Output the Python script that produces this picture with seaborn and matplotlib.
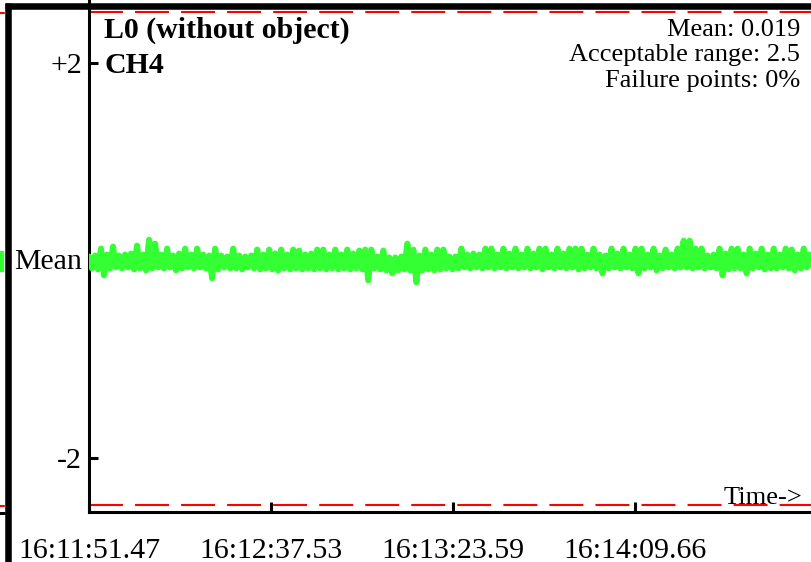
import numpy as np
import matplotlib
matplotlib.use("Agg")
import matplotlib.pyplot as plt
import seaborn as sns
from matplotlib.lines import Line2D
from matplotlib.patches import Rectangle

# channel signal (deviation from mean), one sample every 0.76 s
signal = [
    0.04, -0.08, 0.05, -0.09, 0.12, -0.15, 0.06, -0.08, 0.14, -0.07, 0.05, -0.08,
    0.06, -0.07, 0.07, -0.09, 0.15, -0.08, 0.06, -0.10, 0.21, -0.08, 0.17, -0.07,
    0.06, -0.08, 0.12, -0.07, 0.05, -0.10, 0.07, -0.08, 0.12, -0.07, 0.06, -0.08,
    0.12, -0.07, 0.06, -0.08, 0.05, -0.18, 0.12, -0.09, 0.05, -0.07, 0.04, -0.08,
    0.12, -0.08, 0.05, -0.09, 0.04, -0.07, 0.05, -0.08, 0.11, -0.09, 0.06, -0.08,
    0.11, -0.09, 0.07, -0.10, 0.11, -0.08, 0.06, -0.09, 0.11, -0.08, 0.10, -0.09,
    0.06, -0.08, 0.07, -0.09, 0.11, -0.08, 0.11, -0.09, 0.06, -0.08, 0.11, -0.09,
    0.06, -0.08, 0.11, -0.09, 0.07, -0.08, 0.10, -0.09, 0.11, -0.20, 0.11, -0.08,
    0.04, -0.09, 0.10, -0.10, 0.03, -0.13, 0.03, -0.10, 0.04, -0.09, 0.17, -0.10,
    0.11, -0.22, 0.05, -0.10, 0.11, -0.09, 0.06, -0.10, 0.11, -0.09, 0.11, -0.08,
    0.04, -0.09, 0.04, -0.08, 0.12, -0.07, 0.06, -0.08, 0.07, -0.07, 0.06, -0.08,
    0.12, -0.07, 0.12, -0.08, 0.06, -0.07, 0.12, -0.08, 0.07, -0.07, 0.12, -0.08,
    0.06, -0.07, 0.12, -0.08, 0.07, -0.07, 0.12, -0.09, 0.12, -0.07, 0.06, -0.08,
    0.12, -0.07, 0.07, -0.08, 0.12, -0.07, 0.12, -0.09, 0.12, -0.08, 0.06, -0.07,
    0.12, -0.08, 0.06, -0.13, 0.05, -0.08, 0.12, -0.07, 0.07, -0.08, 0.12, -0.07,
    0.06, -0.08, 0.12, -0.13, 0.12, -0.08, 0.06, -0.07, 0.12, -0.10, 0.05, -0.08,
    0.11, -0.07, 0.06, -0.08, 0.12, -0.07, 0.20, -0.07, 0.20, -0.08, 0.12, -0.07,
    0.12, -0.08, 0.05, -0.07, 0.06, -0.08, 0.12, -0.15, 0.07, -0.09, 0.12, -0.08,
    0.12, -0.08, 0.06, -0.13, 0.12, -0.08, 0.07, -0.07, 0.12, -0.09, 0.06, -0.08,
    0.12, -0.08, 0.06, -0.07, 0.12, -0.08, 0.11, -0.10, 0.06, -0.08, 0.12, -0.07,
    0.06, -0.08, 0.07,
]
sample_dt = 0.76
mean_value = 0.019
acceptable_range = 2.5
tick_seconds = [0, 46.06, 92.12, 138.19]
tick_labels = ["16:11:51.47", "16:12:37.53", "16:13:23.59", "16:14:09.66"]
ytick_values = [2, mean_value, -2]
ytick_labels = ["+2", "Mean", "-2"]

times = np.arange(len(signal)) * sample_dt

sns.set_style("white")
plt.rcParams["font.family"] = ["Liberation Serif", "DejaVu Serif"]
plt.rcParams["text.color"] = "black"

W, H = 812, 562
fig = plt.figure(figsize=(W / 100, H / 100), dpi=100)
ax = fig.add_axes([89 / W, 50 / H, 1 - 89 / W, 1 - 50 / H])

green = "#33ff33"
sns.lineplot(x=times, y=signal, ax=ax, color=green, linewidth=4.4, zorder=3)

for lvl in (mean_value + acceptable_range, mean_value - acceptable_range):
    ax.axhline(lvl, color="red", linewidth=1.5, dashes=(16.3, 5.8), zorder=2)

ax.set_xlim(0, 182.97)
ax.set_ylim(-2.547, 2.638)
ax.set_xticks(tick_seconds)
ax.set_xticklabels(tick_labels)
ax.set_yticks(ytick_values)
ax.set_yticklabels(ytick_labels)
ax.tick_params(axis="y", left=True, direction="in", length=6.5, width=2.2,
               pad=5, labelsize=21.5, colors="black")
ax.tick_params(axis="x", bottom=True, direction="in", length=7.5, width=2.2,
               pad=19, labelsize=21.5, colors="black")

for side in ("top", "right"):
    ax.spines[side].set_visible(False)
for side in ("left", "bottom"):
    ax.spines[side].set_color("black")
    ax.spines[side].set_linewidth(2.2)

# panel header and statistics
fig.text(104 / W, 1 - 38 / H, "L0 (without object)", fontsize=21.5,
         fontweight="bold", ha="left", va="baseline")
fig.text(104 / W, 1 - 73 / H, "CH4", fontsize=21.5,
         fontweight="bold", ha="left", va="baseline")
fig.text(800 / W, 1 - 36 / H, f"Mean: {mean_value}", fontsize=19,
         ha="right", va="baseline")
fig.text(800 / W, 1 - 61.5 / H, f"Acceptable range: {acceptable_range}",
         fontsize=19, ha="right", va="baseline")
fig.text(800 / W, 1 - 87 / H, "Failure points: 0%", fontsize=19,
         ha="right", va="baseline")
fig.text(802 / W, 1 - 504 / H, "Time->", fontsize=19, ha="right", va="baseline")

# panel frame (grid borders)
fig.add_artist(Line2D([8.3 / W, 8.3 / W], [0, 1 - 3 / H], color="black",
                      linewidth=4.7, solid_capstyle="butt"))
fig.add_artist(Line2D([5 / W, 1], [1 - 6.3 / H, 1 - 6.3 / H], color="black",
                      linewidth=4.7, solid_capstyle="butt"))

# slivers of the neighbouring panel on the left
fig.add_artist(Rectangle((0, 1 - 271 / H), 3.5 / W, 20 / H, color=green))
fig.add_artist(Line2D([0, 4 / W], [1 - 13 / H] * 2, color="red", linewidth=1.5))
fig.add_artist(Line2D([0, 4 / W], [1 - 506 / H] * 2, color="red", linewidth=1.5))
fig.add_artist(Line2D([0, 4 / W], [1 - 513 / H] * 2, color="black", linewidth=2.2))

fig.savefig("out.png", dpi=100)
